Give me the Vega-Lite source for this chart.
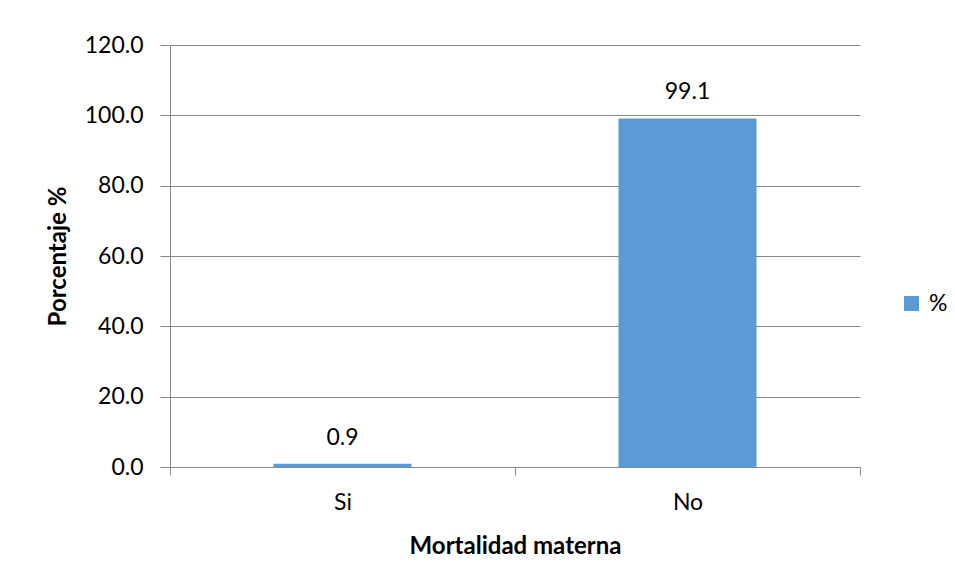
{
  "$schema": "https://vega.github.io/schema/vega-lite/v6.json",
  "width": 690,
  "height": 422,
  "autosize": {"type": "none"},
  "padding": {"left": 170, "top": 45, "right": 95, "bottom": 114},
  "background": "white",
  "config": {
    "font": "Lato",
    "view": {"stroke": null},
    "axis": {"labelFont": "Lato", "titleFont": "Lato", "labelColor": "#000000", "titleColor": "#000000"}
  },
  "data": {
    "values": [
      {"categoria": "Si", "porcentaje": 0.9, "serie": "%"},
      {"categoria": "No", "porcentaje": 99.1, "serie": "%"}
    ]
  },
  "encoding": {
    "x": {
      "field": "categoria",
      "type": "nominal",
      "sort": ["Si", "No"],
      "scale": {"paddingInner": 0, "paddingOuter": 0},
      "axis": {
        "title": "Mortalidad materna",
        "titleFontSize": 24,
        "titleFontWeight": "bold",
        "titlePadding": 20,
        "labelFontSize": 23,
        "labelAngle": 0,
        "labelPadding": 16,
        "tickBand": "extent",
        "tickSize": 8,
        "tickColor": "#888888",
        "domainColor": "#888888",
        "grid": false
      }
    },
    "y": {
      "field": "porcentaje",
      "type": "quantitative",
      "scale": {"domain": [0, 120], "nice": false},
      "axis": {
        "title": "Porcentaje %",
        "titleFontSize": 24,
        "titleFontWeight": "bold",
        "titlePadding": 14,
        "values": [0, 20, 40, 60, 80, 100, 120],
        "format": ".1f",
        "labelFontSize": 23,
        "labelPadding": 17,
        "tickSize": 10,
        "tickColor": "#888888",
        "domainColor": "#888888",
        "gridColor": "#888888",
        "gridWidth": 1,
        "grid": true
      }
    }
  },
  "layer": [
    {
      "mark": {"type": "bar", "width": {"band": 0.4}},
      "encoding": {
        "color": {
          "field": "serie",
          "type": "nominal",
          "scale": {"range": ["#5B9BD5"]},
          "legend": {
            "title": null,
            "orient": "none",
            "legendX": 730,
            "legendY": 247,
            "symbolType": "square",
            "symbolSize": 225,
            "symbolStrokeWidth": 0,
            "labelFontSize": 23,
            "labelFont": "Lato",
            "labelColor": "#000000",
            "labelOffset": 6
          }
        }
      }
    },
    {
      "mark": {"type": "text", "baseline": "bottom", "dy": -14, "fontSize": 23, "font": "Lato", "color": "#000000"},
      "encoding": {
        "text": {"field": "porcentaje", "type": "quantitative", "format": ".1f"}
      }
    }
  ]
}
